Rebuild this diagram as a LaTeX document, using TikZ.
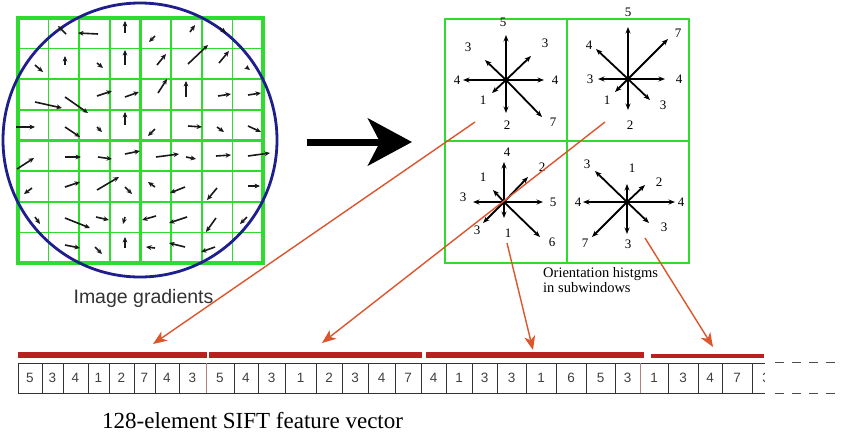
\documentclass[tikz,border=0pt]{standalone}
\usepackage{fontspec}
\setmainfont{Liberation Serif}
\setsansfont{Liberation Sans}
\usetikzlibrary{arrows.meta}
\definecolor{gridgreen}{RGB}{45,220,45}
\definecolor{circblue}{RGB}{30,30,140}
\definecolor{conred}{RGB}{220,85,45}
\definecolor{barred}{RGB}{185,32,32}
\newcommand\histstar[2]{%
  \fill (#1) circle[radius=2.2pt];
  \foreach \dx/\dy/\t/\lx/\ly in {#2} {
    \draw[harrow] (#1) -- ++(\dx,\dy);
    \node[hlabel] (#1-\dx-\dy) at ([shift={(\lx,\ly)}]#1) {\t};
  }}
\begin{document}
\begin{tikzpicture}[x=1pt,y=-1pt,
  garrow/.style={line width=1.6pt, black!90, -{Stealth[length=5.5pt,width=4.8pt]}},
  harrow/.style={line width=1.8pt, -{Stealth[length=6.5pt,width=5pt]}},
  hlabel/.style={font=\fontsize{13}{14}\selectfont, inner sep=0},
  cell/.style={draw=gridgreen, line width=2.8pt, minimum width=122pt, minimum height=122pt, inner sep=0},
  conn/.style={conred, line width=1.4pt, -{Stealth[length=14pt,width=11pt,inset=4pt]}},
  vcell/.style={draw=black!80, line width=0.9pt, minimum height=30pt, inner sep=0, font=\sffamily\fontsize{13.5}{14}\selectfont, text=black!75},
  redbar/.style={fill=barred, draw=none, inner sep=0},
  bigarrow/.style={line width=7pt, -{Stealth[length=44pt,width=47pt,inset=12pt]}}]
\useasboundingbox (0,0) rectangle (845,445);
\fill[white] (0,0) rectangle (845,445);

% ---------- left grid ----------
\foreach \i in {1,2,3,5,6,7} {
  \draw[gridgreen, line width=1.7pt] ({18+30.625*\i},18) -- ++(0,245);
  \draw[gridgreen, line width=1.7pt] (18,{18+30.625*\i}) -- ++(245,0);
}
\draw[gridgreen, line width=3.2pt] (18,18) rectangle (263,263);
\draw[gridgreen, line width=3.2pt] (140.5,18) -- (140.5,263);
\draw[gridgreen, line width=3.2pt] (18,140.5) -- (263,140.5);
\draw[circblue, line width=2.8pt] (140,140) circle[radius=137pt];

\foreach \xa/\ya/\xb/\yb in {
  66/34/58/26, 98/34/78/33, 125/33/125/21,
  35/65/43/72, 65/65/65/56, 97/63/103/68, 125/65/125/50,
  35/102/62/108, 65/97/88/113, 97/96/112/91, 125/97/139/92,
  16/127/35/127, 65/127/80/137, 97/127/102/132, 125/125/125/112,
  155/36/149/42, 190/32/195/25, 220/28/226/33,
  157/65/166/54, 188/64/208/45, 219/63/229/51, 246/67/250/70,
  158/93/167/79, 186/97/186/81, 218/96/231/94, 248/95/261/93,
  155/129/148/136, 188/126/202/127, 217/127/224/132, 248/126/261/132,
  17/169/34/158, 65/157/81/157, 98/157/112/159, 125/154/140/151,
  32/188/24/194, 65/187/80/182, 97/190/119/177, 125/187/132/194,
  35/217/40/224, 65/218/90/228, 96/217/109/220, 125/217/123/224,
  65/245/80/248, 95/247/102/254, 125/248/125/237,
  156/157/179/154, 186/157/196/159, 216/156/231/155, 248/156/270/153,
  155/187/148/182, 185/187/170/193, 217/188/207/200, 248/186/260/186,
  156/216/142/220, 187/217/169/223, 216/218/206/232, 247/217/240/224,
  155/248/146/247, 185/247/169/243, 215/247/201/252} {
  \draw[garrow] (\xa,\ya) -- (\xb,\yb);
}
\node[font=\sffamily\fontsize{19.5}{22}\selectfont, text=black!80, anchor=base, inner sep=0] (lblgrad) at (143.5,303) {Image gradients};

% ---------- big arrow ----------
\coordinate (ba1) at (307,142);
\coordinate (ba2) at (412,142);
\draw[bigarrow] (ba1) -- (ba2);

% ---------- histograms ----------
\node[cell] (c1) at (506,80) {};
\node[cell] (c2) at (628,80) {};
\node[cell] (c3) at (506,202) {};
\node[cell] (c4) at (628,202) {};
\coordinate (s1) at (506,80);
\coordinate (s2) at (628,79);
\coordinate (s3) at (504,202);
\coordinate (s4) at (627,202);
\histstar{s1}{0/-45/5/-3/-58, 0/33/2/1/45, 38/0/4/49/0, -43/0/4/-49/0, 25/-24/3/39/-37, -21/-20/3/-38/-33, -14/13/1/-23/20, 36/37/7/47/42}
\histstar{s2}{0/-52/5/0/-67, 0/31/2/2/46, 37/0/4/51/0, -30/0/3/-38/0, 40/-40/7/50/-46, -32/-30/4/-39/-34, -13/13/1/-21/21, 22/21/3/35/26}
\histstar{s3}{0/-40/4/3/-50, 0/16/1/4/31, 39/0/5/49/0, -31/0/3/-41/-5, 24/-25/2/38/-35, -11/-12/1/-21/-25, -21/21/3/-27/28, 36/35/6/48/40}
\histstar{s4}{0/-18/1/5/-34, 0/32/3/1/42, 48/0/4/54/0, -44/0/4/-49/0, 18/-17/2/32/-20, -32/-31/3/-40/-38, -35/35/7/-42/41, 22/21/3/37/25}
\node[font=\fontsize{14.5}{15}\selectfont, align=left, anchor=north west, inner sep=0] (lblhist) at (543,267) {Orientation histgms\\in subwindows};

% ---------- vector ----------
\node[redbar, minimum width=189pt, minimum height=6pt] (b1) at (112.5,355) {};
\node[redbar, minimum width=213pt, minimum height=6pt] (b2) at (315.5,355) {};
\node[redbar, minimum width=218pt, minimum height=6pt] (b3) at (535,355) {};
\node[redbar, minimum width=113pt, minimum height=4.5pt] (b4) at (707.5,356) {};
\foreach \a/\b/\v [count=\k] in {18/42/5, 42/63/3, 63/88/4, 88/109/1, 109/134/2, 134/155/7, 155/179/4, 179/206/3,
  206/234/5, 234/258/4, 258/285/3, 285/316/1, 316/342/2, 342/368/3, 368/395/4, 395/421/7,
  421/446/4, 446/472/1, 472/497/3, 497/526/3, 526/556/1, 556/586/6, 586/615/5, 615/640/3,
  640/668/1, 668/698/3, 698/722/4, 722/752/7} {
  \node[vcell, minimum width={\b-\a}] (v\k) at ({(\a+\b)/2},378) {\v};
}
\draw[black!80, line width=0.9pt] (752,363) -- (765,363);
\draw[black!80, line width=0.9pt] (752,393) -- (765,393);
\begin{scope}
  \clip (752,363) rectangle (764,393);
  \node[vcell, draw=none] (v29) at (766,378) {3};
\end{scope}
\draw[red!40!black!50, line width=0.9pt] (206,363) -- (206,393);
\draw[red!40!black!50, line width=0.9pt] (640,363) -- (640,393);
\coordinate (d1) at (775,362);
\coordinate (d2) at (840,362);
\coordinate (d3) at (775,393);
\coordinate (d4) at (840,393);
\draw[black!70, line width=0.9pt, dash pattern=on 9pt off 8pt] (d1) -- (d2);
\draw[black!70, line width=0.9pt, dash pattern=on 9pt off 8pt] (d3) -- (d4);
\node[font=\fontsize{23}{24}\selectfont, anchor=base west, inner sep=0] (lblvec) at (102,428) {128-element SIFT feature vector};

% ---------- connectors ----------
\coordinate (p1) at (475,122);
\coordinate (p2) at (605,122);
\coordinate (p3) at (507,243);
\coordinate (p4) at (645,238);
\coordinate (t1) at (153,344);
\coordinate (t2) at (322,343);
\coordinate (t3) at (533,350);
\coordinate (t4) at (713,347);
\draw[conn] (p1) -- (t1);
\draw[conn] (p2) -- (t2);
\draw[conn] (p3) -- (t3);
\draw[conn] (p4) -- (t4);
\end{tikzpicture}
\end{document}
